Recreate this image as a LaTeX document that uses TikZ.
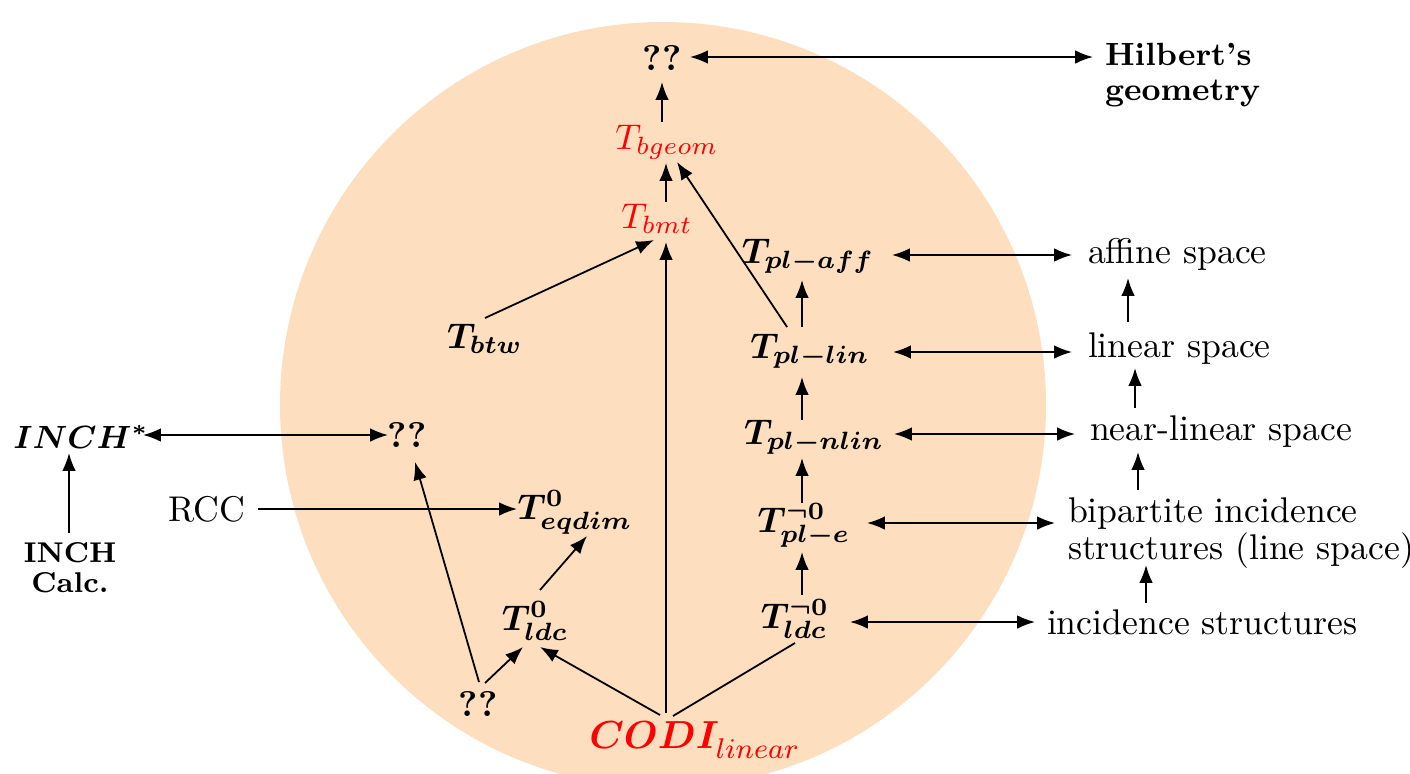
\documentclass[tikz,border=0pt]{standalone}
\usepackage{amsmath,bm}
\usetikzlibrary{arrows.meta}
\definecolor{peach}{RGB}{253,222,190}
\begin{document}
\begin{tikzpicture}[x=0.28pt,y=-0.28pt,
  arr/.style={-{Latex[length=5pt,width=3.8pt]}, line width=0.5pt},
  darr/.style={{Latex[length=5pt,width=3.8pt]}-{Latex[length=5pt,width=3.8pt]}, line width=0.5pt},
  plainline/.style={line width=0.5pt},
  nd/.style={inner sep=0pt, outer sep=0pt},
  rl/.style={inner sep=0pt, outer sep=0pt, anchor=west, align=left},
  redm/.style={inner sep=0pt, outer sep=0pt, text=red}]
\useasboundingbox (0,0) rectangle (1410,773);
\begin{scope}
  \clip (0,0) rectangle (1410,773);
  \fill[peach] (663,405) circle [radius=383];
\end{scope}

% central column
\node[nd] (qtop) at (662,58) {\textbf{??}};
\node[redm] (bgeom) at (667,142) {$T_{bgeom}$};
\node[redm] (bmt) at (657,219) {$T_{bmt}$};
\node[nd] (btw) at (485,339) {$\bm{T_{btw}}$};
\node[nd] (paff) at (808,256) {$\bm{T_{pl-aff}}$};
\node[nd] (plin) at (810,351) {$\bm{T_{pl-lin}}$};
\node[nd] (pnlin) at (814,437) {$\bm{T_{pl-nlin}}$};
\node[nd] (pe) at (804,525) {$\bm{T^{\neg 0}_{pl-e}}$};
\node[nd] (ldcn) at (795,619) {$\bm{T^{\neg 0}_{ldc}}$};
\node[nd] (qmid) at (407,435) {\textbf{??}};
\node[nd] (eqdim) at (575,512) {$\bm{T^{0}_{eqdim}}$};
\node[nd] (ldc0) at (535,621) {$\bm{T^{0}_{ldc}}$};
\node[nd] (qbot) at (478,704) {\textbf{??}};
\node[redm] (codi) at (695,740) {\fontsize{10.8}{13}\selectfont$\bm{CODI}_{\lower1.2pt\hbox{\fontsize{7.6}{9}\selectfont$linear$}}$};

% left
\node[nd] (inch) at (81,437) {\fontsize{9}{11}\selectfont$\bm{INCH^{*}}$};
\node[nd] (rcc) at (207,509) {RCC};
\node[nd, align=center, font=\footnotesize\bfseries] (calc) at (70,568) {INCH\\[-1pt]Calc.};

% right
\node[rl, font=\small\bfseries] (hilb) at (1105,75) {Hilbert's\\[-1pt]geometry};
\node[rl] (aff) at (1088,254) {affine space};
\node[rl] (lin) at (1088,349) {linear space};
\node[rl] (nlin) at (1090,432) {near-linear space};
\node[rl] (bip) at (1068,533) {bipartite incidence\\[-1.5pt]structures (line space)};
\node[rl] (inc) at (1047,622) {incidence structures};

% connectors
\draw[arr] ([shift={(-5,-20)}]bgeom.center) -- ([shift={(0,24)}]qtop.center);
\draw[arr] ([shift={(9,-17)}]bmt.center) -- ([shift={(-1,21)}]bgeom.center);
\draw[arr] ([shift={(-23,-24)}]plin.center) -- ([shift={(10,20)}]bgeom.center);
\draw[arr] ([shift={(0,-21)}]btw.center) -- ([shift={(-3,21)}]bmt.center);
\draw[arr] ([shift={(-29,-27)}]codi.center) -- ([shift={(9,23)}]bmt.center);
\draw[arr] ([shift={(-35,-25)}]codi.center) -- ([shift={(5,26)}]ldc0.center);
\draw[plainline] ([shift={(-22,-24)}]codi.center) -- ([shift={(0,24)}]ldcn.center);
\draw[arr] ([shift={(7,-21)}]qbot.center) -- ([shift={(-12,26)}]ldc0.center);
\draw[arr] ([shift={(1,-22)}]qbot.center) -- ([shift={(8,27)}]qmid.center);
\draw[arr] ([shift={(5,-31)}]ldc0.center) -- ([shift={(12,24)}]eqdim.center);
\draw[arr] ([shift={(51,0)}]rcc.center) -- ([shift={(-58,-3)}]eqdim.center);
\draw[darr] ([shift={(62,-2)}]inch.center) -- ([shift={(-19,0)}]qmid.center);
\draw[arr] ([shift={(-1,-35)}]calc.center) -- ([shift={(-12,16)}]inch.center);
\draw[darr] ([shift={(28,-1)}]qtop.center) -- ([shift={(-12,-18)}]hilb.west);

\draw[darr] ([shift={(84,-1)}]paff.center) -- ([shift={(-16,1)}]aff.west);
\draw[darr] ([shift={(83,1)}]plin.center) -- ([shift={(-16,3)}]lin.west);
\draw[darr] ([shift={(80,-3)}]pnlin.center) -- ([shift={(-15,2)}]nlin.west);
\draw[darr] ([shift={(63,-2)}]pe.center) -- ([shift={(-13,-10)}]bip.west);
\draw[darr] ([shift={(55,3)}]ldcn.center) -- ([shift={(-12,0)}]inc.west);

\draw[arr] ([shift={(-8,-24)}]plin.center) -- ([shift={(-6,24)}]paff.center);
\draw[arr] ([shift={(-12,-17)}]pnlin.center) -- ([shift={(-8,26)}]plin.center);
\draw[arr] ([shift={(-2,-22)}]pe.center) -- ([shift={(-12,21)}]pnlin.center);
\draw[arr] ([shift={(7,-24)}]ldcn.center) -- ([shift={(-2,27)}]pe.center);

\draw[arr] ([shift={(40,-27)}]lin.west) -- ([shift={(40,24)}]aff.west);
\draw[arr] ([shift={(45,-24)}]nlin.west) -- ([shift={(47,19)}]lin.west);
\draw[arr] ([shift={(70,-43)}]bip.west) -- ([shift={(48,20)}]nlin.west);
\draw[arr] ([shift={(99,-19)}]inc.west) -- ([shift={(78,32)}]bip.west);
\end{tikzpicture}
\end{document}
